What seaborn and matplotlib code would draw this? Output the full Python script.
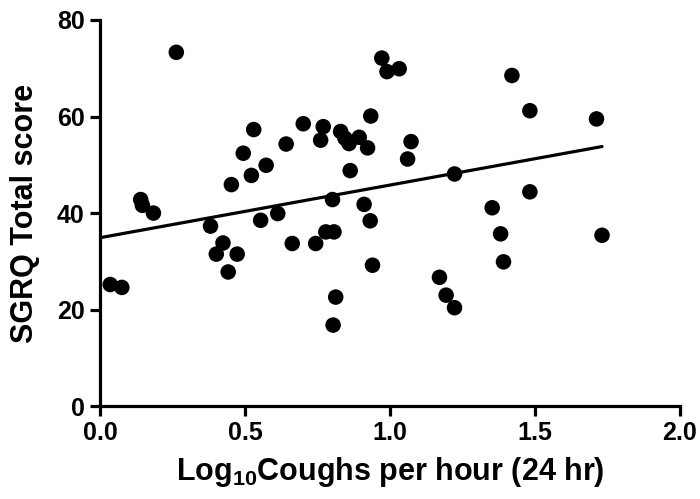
import matplotlib
matplotlib.use("Agg")
import matplotlib.pyplot as plt
import seaborn as sns
import pandas as pd
import numpy as np

# Data
log_coughs = [0.035, 0.075, 0.140, 0.146, 0.184, 0.263, 0.381, 0.401, 0.424, 0.442,
              0.453, 0.473, 0.494, 0.522, 0.530, 0.554, 0.573, 0.613, 0.642, 0.663,
              0.701, 0.744, 0.761, 0.770, 0.779, 0.802, 0.804, 0.807, 0.813, 0.830,
              0.845, 0.859, 0.863, 0.894, 0.911, 0.923, 0.932, 0.934, 0.940, 0.972,
              0.990, 1.032, 1.061, 1.073, 1.171, 1.194, 1.223, 1.223, 1.353, 1.382,
              1.392, 1.421, 1.483, 1.483, 1.713, 1.732]
sgrq = [25.2, 24.6, 42.8, 41.6, 40.0, 73.3, 37.3, 31.5, 33.8, 27.8,
        45.9, 31.5, 52.4, 47.8, 57.3, 38.5, 49.9, 39.9, 54.3, 33.7,
        58.5, 33.7, 55.1, 57.9, 36.1, 42.8, 16.8, 36.1, 22.6, 56.9,
        55.5, 54.4, 48.8, 55.7, 41.8, 53.5, 38.4, 60.1, 29.2, 72.1,
        69.3, 69.9, 51.2, 54.8, 26.7, 23.0, 20.4, 48.1, 41.1, 35.7,
        29.9, 68.5, 61.2, 44.4, 59.5, 35.4]
fit_intercept = 34.9
fit_slope = 10.9
fit_x = [0.0, 1.732]
x_ticks = [0.0, 0.5, 1.0, 1.5, 2.0]
x_ticklabels = ["0.0", "0.5", "1.0", "1.5", "2.0"]
y_ticks = [0, 20, 40, 60, 80]

sns.set_style("white")
plt.rcParams['font.family'] = ['Liberation Sans', 'DejaVu Sans']
plt.rcParams['font.weight'] = 'bold'
plt.rcParams['text.color'] = 'black'
plt.rcParams['axes.labelcolor'] = 'black'
plt.rcParams['mathtext.fontset'] = 'custom'
plt.rcParams['mathtext.rm'] = 'Liberation Sans:bold'
plt.rcParams['mathtext.bf'] = 'Liberation Sans:bold'
plt.rcParams['mathtext.it'] = 'Liberation Sans:bold'

df = pd.DataFrame({"x": log_coughs, "y": sgrq})
fit_df = pd.DataFrame({"x": fit_x, "y": [fit_intercept + fit_slope * v for v in fit_x]})

fig = plt.figure(figsize=(7.0, 4.99), dpi=100)
ax = fig.add_axes([0.143, 0.186, 0.828, 0.774])

sns.lineplot(data=fit_df, x="x", y="y", ax=ax, color="black", linewidth=2.3, zorder=2)
sns.scatterplot(data=df, x="x", y="y", ax=ax, color="black", s=125,
                edgecolor="none", linewidth=0, zorder=3, clip_on=False)

ax.set_xlim(0, 2.0)
ax.set_ylim(0, 80)
ax.set_xticks(x_ticks)
ax.set_xticklabels(x_ticklabels)
ax.set_yticks(y_ticks)

for s in ["top", "right"]:
    ax.spines[s].set_visible(False)
for s in ["left", "bottom"]:
    ax.spines[s].set_linewidth(2.3)
    ax.spines[s].set_color("black")

ax.tick_params(axis="both", direction="out", length=7, width=2.3, colors="black",
               labelcolor="black", labelsize=18, pad=4, bottom=True, left=True)
for lab in ax.get_xticklabels() + ax.get_yticklabels():
    lab.set_fontweight("bold")
    lab.set_color("black")

ax.set_xlabel(r"Log$_{\mathrm{10}}$Coughs per hour (24 hr)", fontsize=22,
              fontweight="bold", labelpad=7, color="black")
ax.set_ylabel("SGRQ Total score", fontsize=22, fontweight="bold", labelpad=12,
              color="black")

fig.savefig("out.png", dpi=100)
